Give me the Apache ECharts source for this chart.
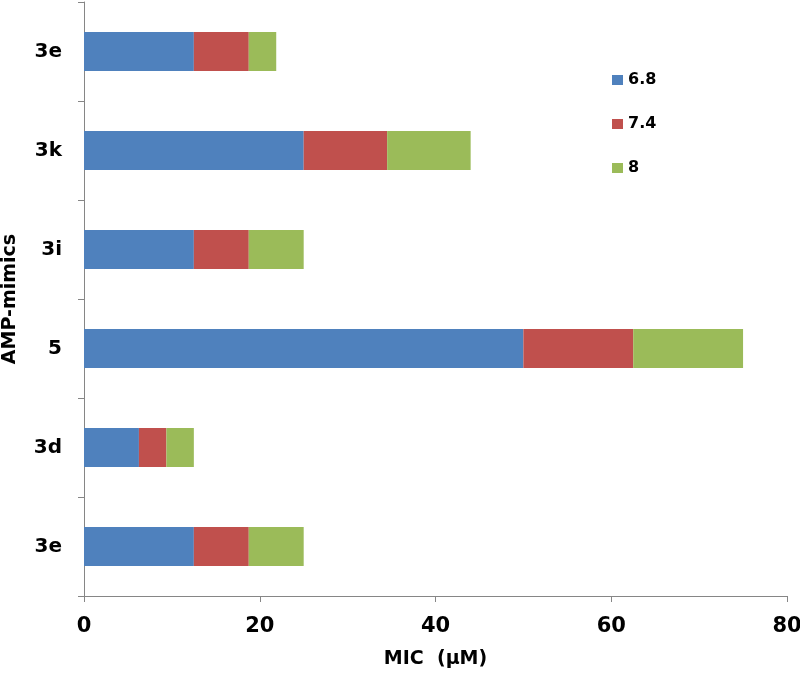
<!DOCTYPE html>
<html>
<head>
<meta charset="utf-8">
<script src="https://cdn.jsdelivr.net/npm/echarts@6/dist/echarts.min.js"></script>
<style>html,body{margin:0;padding:0;background:#fff;}#c{width:800px;height:674px;}</style>
</head>
<body>
<div id="c"></div>
<script>
// categories bottom to top
var categories = ['3e', '3d', '5', '3i', '3k', '3e'];
var seriesNames = ['6.8', '7.4', '8'];
var ph68 = [12.5, 6.25, 50, 12.5, 25, 12.5];
var ph74 = [6.25, 3.125, 12.5, 6.25, 9.5, 6.25];
var ph8  = [6.25, 3.125, 12.5, 6.25, 9.5, 3.125];
var xTicks = [0, 20, 40, 60, 80];

var colors = ['#4F81BD', '#C0504D', '#9BBB59'];
var font = '"DejaVu Sans", sans-serif';
var chart = echarts.init(document.getElementById('c'));
var vals = [ph68, ph74, ph8];
chart.setOption({
  animation: false,
  color: colors,
  grid: {left: 84, right: 13, top: 2, bottom: 78, containLabel: false, outerBoundsMode: 'none'},
  legend: {
    orient: 'vertical', left: 612, top: 71, padding: 0,
    itemWidth: 11, itemHeight: 10, itemGap: 26,
    icon: 'rect',
    textStyle: {fontFamily: font, fontWeight: 'bold', fontSize: 16, lineHeight: 18, color: '#000'},
    data: seriesNames
  },
  xAxis: {
    type: 'value', min: xTicks[0], max: xTicks[xTicks.length - 1], interval: 20,
    name: 'MIC  (\u00b5M)', nameLocation: 'middle', nameGap: 54,
    nameTextStyle: {fontFamily: font, fontWeight: 'bold', fontSize: 19, color: '#000'},
    axisLine: {show: true, lineStyle: {color: '#868686', width: 1}},
    axisTick: {show: true, length: 6, lineStyle: {color: '#868686'}},
    splitLine: {show: false},
    axisLabel: {margin: 20, fontFamily: font, fontWeight: 'bold', fontSize: 21, color: '#000'}
  },
  yAxis: {
    type: 'category', data: categories,
    name: 'AMP-mimics', nameLocation: 'middle', nameGap: 64, nameRotate: 90,
    nameTextStyle: {fontFamily: font, fontWeight: 'bold', fontSize: 19, color: '#000'},
    axisLine: {show: true, lineStyle: {color: '#868686', width: 1}},
    axisTick: {show: true, length: 6, alignWithLabel: false, lineStyle: {color: '#868686'}},
    axisLabel: {margin: 22, fontFamily: font, fontWeight: 'bold', fontSize: 20, color: '#000'}
  },
  series: seriesNames.map(function (n, i) {
    return {name: n, type: 'bar', stack: 'mic', barWidth: 39, data: vals[i]};
  })
});
</script>
</body>
</html>
